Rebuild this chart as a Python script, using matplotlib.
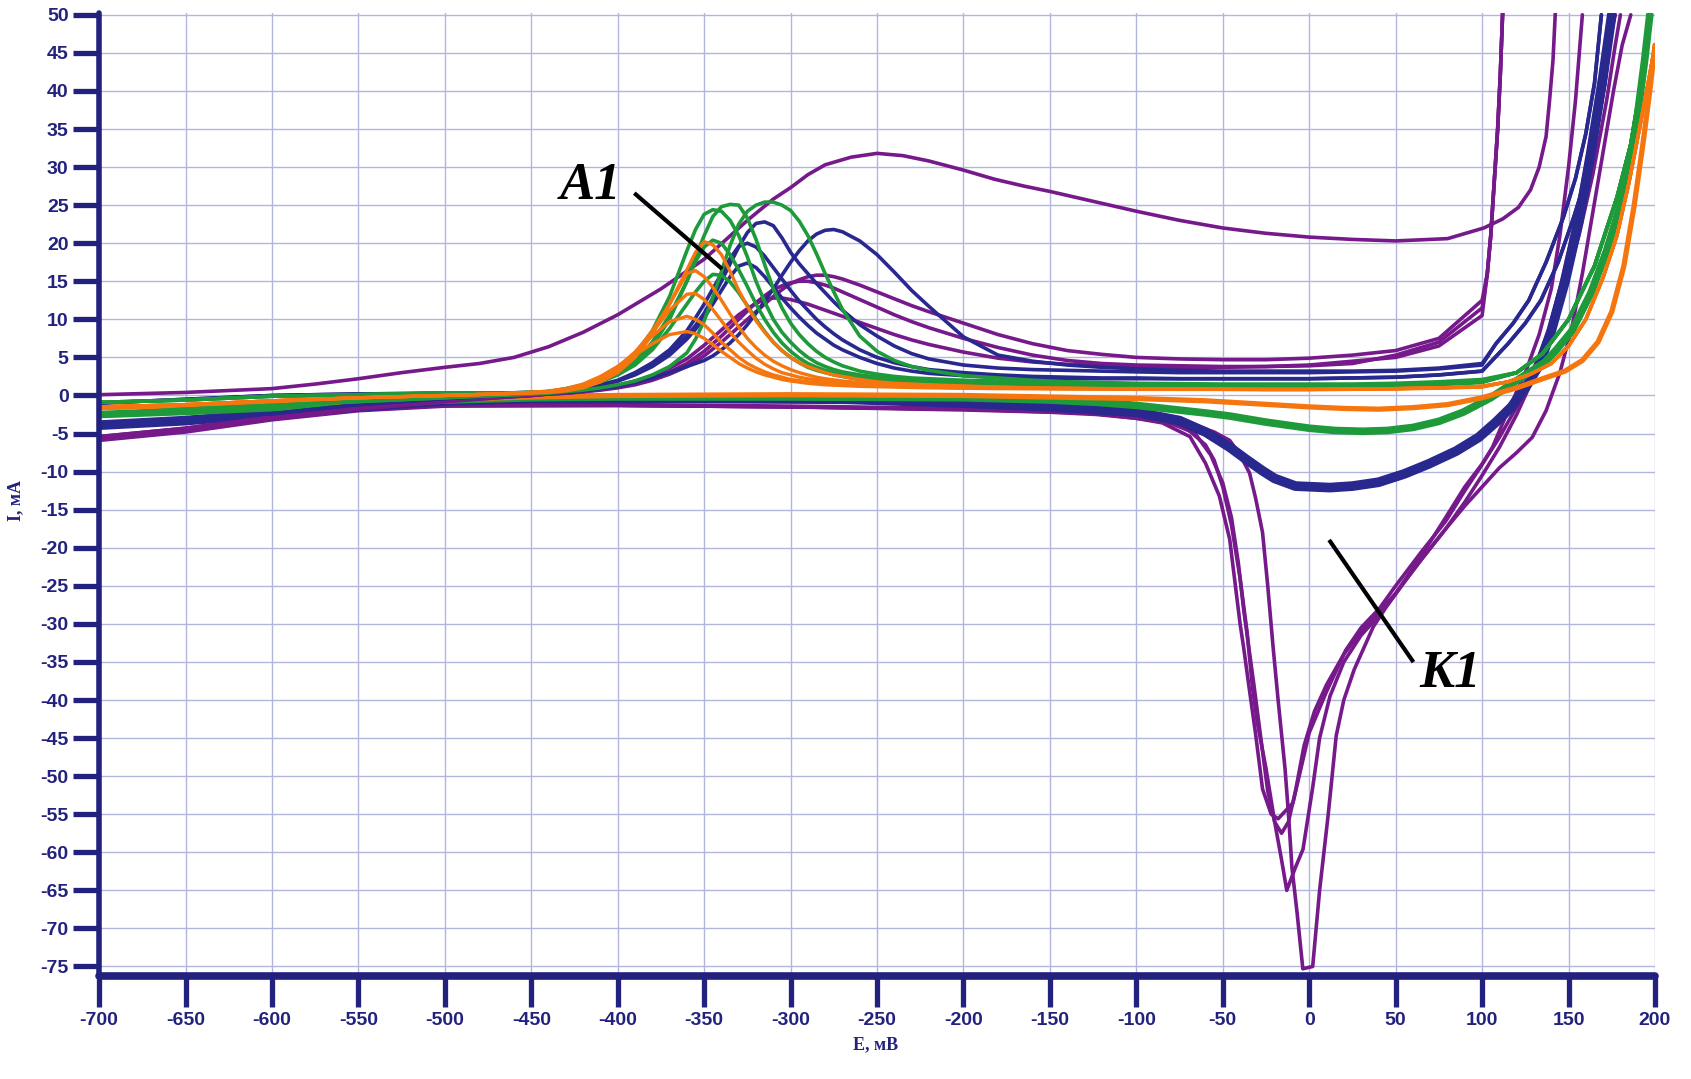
"""
Cyclic voltammograms: current I (mA) vs potential E (mV), A1 anodic and K1 cathodic peaks.
"""

import matplotlib

matplotlib.use("Agg")
import matplotlib.pyplot as plt

PURPLE = "#76198a"
BLUE = "#28288f"
GREEN = "#1f9a3a"
ORANGE = "#f5760f"
NAVY = "#22227e"
GRID = "#b3b6dc"

# ---- forward scans, sampled on a common potential grid (mV) ----
E_FWD = [-700, -650, -600, -550, -500, -470, -450, -440, -430, -420, -410, -400, -390, -380,
         -370, -360,
         -355, -350, -345, -340, -335, -330, -325, -320, -315, -310, -305, -300, -295, -290,
         -285, -280, -275, -270,
         -260, -250, -240, -230, -220, -200, -180, -160, -140, -120, -100, -75, -50, -25, 0,
         25, 50, 75, 100]

ORANGE_FWD = [
    [-1.5, -1.2, -0.7, -0.3, 0.0, 0.2, 0.4, 0.6, 0.9, 1.5, 2.5, 3.8, 5.3, 6.8, 8.0, 8.4,
     8.1, 7.5, 6.7, 5.8, 5.0, 4.2, 3.6, 3.1, 2.7, 2.4, 2.1, 1.9, 1.75, 1.6, 1.5, 1.4, 1.35, 1.3,
     1.2, 1.15, 1.1, 1.05, 1.0, 0.95, 0.9, 0.9, 0.85, 0.85, 0.8, 0.8, 0.8, 0.75, 0.75, 0.8, 0.85,
     0.95, 1.1],
    [-1.5, -1.2, -0.7, -0.3, 0.0, 0.2, 0.4, 0.5, 0.8, 1.4, 2.4, 3.8, 5.6, 7.8, 9.7, 10.4,
     10.0, 9.3, 8.2, 7.0, 6.0, 5.0, 4.2, 3.6, 3.1, 2.7, 2.4, 2.1, 1.95, 1.8, 1.7, 1.6, 1.5, 1.45,
     1.35, 1.25, 1.2, 1.15, 1.1, 1.0, 0.95, 0.9, 0.9, 0.85, 0.85, 0.8, 0.8, 0.8, 0.8, 0.85, 0.9,
     1.0, 1.15],
    [-1.5, -1.2, -0.7, -0.3, 0.0, 0.2, 0.4, 0.5, 0.8, 1.3, 2.3, 3.7, 5.7, 8.3, 11.2, 13.3,
     13.4, 12.6, 11.3, 9.8, 8.3, 7.0, 5.9, 4.9, 4.1, 3.5, 3.0, 2.7, 2.4, 2.2, 2.05, 1.9, 1.8, 1.7,
     1.55, 1.45, 1.35, 1.3, 1.25, 1.1, 1.0, 0.95, 0.9, 0.9, 0.85, 0.85, 0.8, 0.8, 0.8, 0.85, 0.9,
     1.0, 1.2],
    [-1.5, -1.2, -0.7, -0.3, 0.0, 0.2, 0.4, 0.5, 0.7, 1.2, 2.1, 3.4, 5.5, 8.5, 12.0, 16.0,
     16.4, 15.6, 14.2, 12.5, 10.7, 9.0, 7.5, 6.3, 5.3, 4.5, 3.9, 3.4, 3.0, 2.7, 2.4, 2.2, 2.05, 1.9,
     1.7, 1.55, 1.45, 1.4, 1.35, 1.2, 1.1, 1.0, 0.95, 0.9, 0.9, 0.85, 0.85, 0.8, 0.8, 0.85, 0.9,
     1.0, 1.2],
    [-1.5, -1.2, -0.7, -0.3, 0.0, 0.2, 0.3, 0.4, 0.6, 1.0, 1.8, 3.0, 5.0, 8.0, 12.0, 16.5,
     18.8, 20.2, 19.8, 18.5, 16.3, 13.8, 11.7, 9.8, 8.3, 7.0, 5.9, 5.0, 4.3, 3.8, 3.4, 3.0, 2.7, 2.5,
     2.1, 1.8, 1.6, 1.5, 1.4, 1.25, 1.1, 1.0, 0.95, 0.9, 0.9, 0.85, 0.85, 0.8, 0.8, 0.85, 0.9,
     1.0, 1.2],
]

GREEN_FWD = [
    [-0.9, -0.6, -0.1, 0.1, 0.3, 0.3, 0.4, 0.5, 0.8, 1.2, 1.8, 2.8, 4.2, 6.5, 10.0, 15.0,
     18.2, 21.0, 23.5, 24.8, 25.1, 25.0, 23.3, 20.5, 17.2, 14.0, 11.5, 9.5, 8.0, 6.8, 5.8, 5.0,
     4.4, 3.9,
     3.2, 2.8, 2.5, 2.3, 2.2, 2.0, 1.9, 1.8, 1.7, 1.6, 1.5, 1.5, 1.4, 1.4, 1.4, 1.4, 1.5, 1.7, 2.0],
    [-0.9, -0.6, -0.1, 0.1, 0.3, 0.3, 0.4, 0.5, 0.9, 1.4, 2.2, 3.4, 5.4, 8.5, 13.0, 19.0,
     21.8, 23.8, 24.4, 24.2, 23.0, 21.0, 18.2, 15.0, 12.3, 10.0, 8.3, 7.0, 5.9, 5.0, 4.3, 3.8,
     3.4, 3.1,
     2.7, 2.4, 2.2, 2.0, 1.9, 1.8, 1.7, 1.6, 1.5, 1.5, 1.4, 1.4, 1.3, 1.3, 1.3, 1.3, 1.4, 1.6, 1.9],
    [-2.4, -1.8, -1.3, -0.8, -0.3, 0.0, 0.2, 0.3, 0.5, 0.7, 1.0, 1.4, 1.9, 2.7, 3.8, 5.6,
     7.4, 9.8, 12.9, 16.3, 19.7, 22.5, 24.2, 25.0, 25.4, 25.4, 25.0, 24.3, 22.9, 21.0, 18.6, 16.0,
     13.6, 11.3,
     7.8, 5.8, 4.6, 3.8, 3.3, 2.6, 2.3, 2.0, 1.8, 1.7, 1.6, 1.55, 1.5, 1.5, 1.5, 1.5, 1.6, 1.8, 2.1],
    [-2.4, -1.8, -1.3, -0.8, -0.3, 0.0, 0.2, 0.5, 0.8, 1.3, 2.0, 3.0, 4.6, 7.0, 10.5, 15.0,
     17.6, 19.5, 20.4, 20.0, 18.5, 16.5, 14.3, 12.0, 10.0, 8.3, 6.9, 5.8, 4.9, 4.2, 3.7, 3.3,
     3.0, 2.7,
     2.3, 2.0, 1.85, 1.7, 1.6, 1.5, 1.4, 1.35, 1.3, 1.3, 1.25, 1.2, 1.2, 1.2, 1.2, 1.2, 1.3, 1.5,
     1.8],
    [-0.9, -0.6, -0.1, 0.1, 0.3, 0.3, 0.4, 0.5, 0.8, 1.2, 1.8, 2.7, 4.0, 6.0, 8.8, 12.0,
     13.6, 15.0, 15.9, 15.8, 14.9, 13.5, 11.8, 10.0, 8.4, 7.0, 5.9, 5.0, 4.3, 3.7, 3.3, 3.0,
     2.7, 2.5,
     2.1, 1.9, 1.75, 1.6, 1.5, 1.4, 1.35, 1.3, 1.25, 1.2, 1.2, 1.2, 1.15, 1.15, 1.15, 1.2, 1.25,
     1.4, 1.7],
]

BLUE_FWD = [
    [-3.9, -3.0, -2.4, -1.2, -0.4, 0.0, 0.3, 0.4, 0.6, 0.9, 1.3, 1.9, 2.8, 4.0, 5.6, 7.8,
     9.2, 10.8, 12.8, 15.0, 17.3, 19.5, 21.4, 22.6, 22.8, 22.3, 20.7, 18.8, 17.3, 16.0, 14.7,
     13.5, 12.3, 11.2,
     9.3, 7.8, 6.5, 5.5, 4.8, 4.0, 3.6, 3.4, 3.3, 3.2, 3.1, 3.0, 3.0, 3.0, 3.0, 3.1, 3.2, 3.5, 4.0],
    [-3.9, -3.0, -2.4, -1.2, -0.4, 0.0, 0.3, 0.4, 0.6, 0.9, 1.4, 2.0, 3.0, 4.3, 6.0, 8.5,
     10.2, 12.0, 14.0, 16.0, 18.0, 19.6, 20.0, 19.5, 18.3, 16.8, 15.3, 13.8, 12.4, 11.2, 10.0,
     9.0, 8.1, 7.3,
     6.0, 5.0, 4.3, 3.8, 3.4, 3.0, 2.7, 2.5, 2.4, 2.3, 2.3, 2.2, 2.2, 2.2, 2.2, 2.3, 2.4, 2.7, 3.2],
    [-1.0, -0.5, 0.0, 0.2, 0.3, 0.3, 0.3, 0.3, 0.4, 0.6, 0.9, 1.2, 1.7, 2.3, 3.0, 3.8,
     4.2, 4.6, 5.2, 6.0, 6.9, 8.0, 9.3, 10.8, 12.4, 14.0, 15.8, 17.5, 19.0, 20.3, 21.2, 21.7,
     21.8, 21.5,
     20.3, 18.5, 16.2, 13.8, 11.7, 7.7, 5.3, 4.5, 4.0, 3.7, 3.5, 3.3, 3.2, 3.2, 3.2, 3.2, 3.3,
     3.6, 4.2],
    [-1.0, -0.5, 0.0, 0.2, 0.3, 0.3, 0.4, 0.4, 0.6, 0.9, 1.3, 1.9, 2.7, 3.8, 5.3, 7.4,
     8.7, 10.2, 12.0, 13.8, 15.6, 17.0, 17.4, 16.8, 15.6, 14.2, 12.8, 11.5, 10.3, 9.2, 8.2, 7.4,
     6.6, 6.0,
     5.0, 4.2, 3.6, 3.2, 2.9, 2.6, 2.4, 2.3, 2.2, 2.2, 2.2, 2.2, 2.2, 2.2, 2.2, 2.3, 2.4, 2.7, 3.2],
]

PURPLE_FWD = [
    [-5.7, -4.6, -3.1, -1.8, -0.8, -0.3, 0.0, 0.2, 0.3, 0.5, 0.7, 1.0, 1.4, 2.0, 2.8, 3.8,
     4.5, 5.2, 6.1, 7.0, 8.0, 9.0, 10.0, 11.0, 12.0, 13.0, 13.9, 14.7, 15.2, 15.6, 15.8, 15.8,
     15.6, 15.3,
     14.5, 13.6, 12.7, 11.8, 11.0, 9.5, 8.0, 6.8, 5.9, 5.4, 5.0, 4.8, 4.7, 4.7, 4.9, 5.3, 5.9,
     7.5, 12.5],
    [-5.6, -4.5, -3.0, -1.7, -0.8, -0.3, 0.0, 0.2, 0.3, 0.5, 0.8, 1.1, 1.6, 2.3, 3.1, 4.2,
     5.0, 5.8, 6.8, 7.8, 8.9, 10.0, 11.1, 12.2, 13.1, 13.9, 14.4, 14.8, 15.0, 15.0, 14.8, 14.5,
     14.1, 13.6,
     12.6, 11.6, 10.6, 9.7, 8.9, 7.5, 6.3, 5.3, 4.6, 4.2, 4.0, 3.9, 3.8, 3.8, 3.9, 4.2, 5.3, 7.0,
     11.5],
    [-5.4, -4.3, -2.8, -1.6, -0.7, -0.2, 0.0, 0.2, 0.4, 0.6, 0.9, 1.3, 1.9, 2.6, 3.6, 4.8,
     5.7, 6.6, 7.6, 8.6, 9.6, 10.6, 11.4, 12.1, 12.6, 12.8, 12.8, 12.6, 12.3, 12.0, 11.6, 11.2,
     10.8, 10.4,
     9.6, 8.8, 8.0, 7.3, 6.7, 5.7, 4.9, 4.4, 4.1, 3.9, 3.8, 3.7, 3.7, 3.8, 4.0, 4.5, 5.0, 6.5, 10.5],
]

# steep current rise of the forward scans near the end of the sweep
ORANGE_RISE_E = [115, 128, 140, 150, 160, 170, 178, 185, 191, 196, 200]
ORANGE_RISE_I = [1.8, 2.8, 4.2, 6.5, 10.0, 15.5, 21.0, 28.0, 35.0, 41.0, 46.0]
GREEN_RISE_E = [120, 135, 150, 165, 178, 186, 192, 197]
GREEN_RISE_I = [3.0, 5.5, 10.0, 17.0, 26.0, 33.0, 41.0, 50.0]
BLUE_RISE_E = [108, 118, 127, 137, 147, 154, 160, 165, 169]
BLUE_RISE2_E = [115, 125, 134, 144, 153, 160, 166, 171, 176]
BLUE_RISE_I = [6.8, 9.5, 12.5, 17.5, 23.4, 28.5, 34.4, 41.0, 50.0]
PURPLE_RISE_E = [103, 105, 107, 109, 110.5, 112]
PURPLE_RISE_I = [16.0, 21.0, 28.0, 35.0, 42.0, 51.0]

# broad purple forward scan
PB_E = [-700, -650, -600, -575, -550, -525, -500, -480, -460, -440, -420, -400, -375, -350, -325,
        -310, -300, -290, -280, -265, -250, -235, -220, -200, -182, -165, -150, -125, -100, -75,
        -50, -25, 0, 25, 50, 80, 101, 112, 121, 128, 133, 137, 139, 141, 142.5]
PB_I = [0.1, 0.4, 0.9, 1.5, 2.2, 3.0, 3.7, 4.2, 5.0, 6.4, 8.3, 10.6, 14.0, 17.9, 23.0,
        25.8, 27.3, 29.0, 30.3, 31.3, 31.8, 31.5, 30.8, 29.6, 28.4, 27.5, 26.8, 25.5, 24.2, 23.0,
        22.0, 21.3, 20.8, 20.5, 20.3, 20.6, 22.0, 23.2, 24.7, 27.0, 30.0, 34.0, 38.7, 44.0, 51.0]

# ---- reverse scans ----
OR_E = [200, 197, 193, 188, 182, 175, 167, 158, 148, 135, 120, 100, 80, 60, 40, 20, 0, -30, -60,
        -100, -150, -200, -300, -400, -450, -500, -550, -600, -650, -700]
OR_I = [46, 40, 33, 25, 17, 11, 7, 4.6, 3.2, 2.2, 1.0, -0.3, -1.2, -1.6, -1.8, -1.7, -1.5, -1.1,
        -0.7, -0.4, -0.2, 0.0, 0.1, 0.0, -0.2, -0.5, -0.8, -1.1, -1.4, -1.6]

GR_E = [197, 194, 190, 185, 180, 172, 163, 152, 143, 136, 127, 117, 105, 89, 75, 60, 45, 31, 15, 0,
        -25, -46, -60, -80, -100, -123, -150, -200, -300, -400, -450, -500, -550, -600, -650, -700]
GR_I = [50, 44, 37, 30, 25, 19, 13.5, 8.5, 6.0, 4.3, 3.0, 1.5, -0.3, -2.2, -3.4, -4.2, -4.6, -4.7,
        -4.6, -4.3, -3.5, -2.7, -2.3, -1.8, -1.3, -0.9, -0.6, -0.3, -0.2, -0.2, -0.3, -0.6, -1.1,
        -1.6, -2.1, -2.5]

BR_E = [175, 170, 163, 156, 148, 140, 133, 125, 117, 108, 98, 85, 69, 55, 40, 25, 12, -8, -20,
        -27, -37, -46, -60, -75, -100, -150, -200, -268, -350, -450, -500, -550, -600, -650, -700]
BR_I = [50, 42, 32, 23, 15, 8.5, 4.0, 1.0, -1.5, -3.5, -5.5, -7.3, -9.0, -10.3, -11.4, -11.9,
        -12.1, -11.9, -10.9, -9.9, -8.3, -6.8, -4.8, -3.3, -2.2, -1.5, -1.0, -0.5, -0.4, -0.4, -0.7,
        -1.5, -2.4, -3.3, -3.9]

K1_E = [180, 177, 172, 164, 156, 147, 137, 128, 120, 110, 98.5, 90, 79, 65, 50, 40.5, 30, 21, 9.8,
        0, -9.4, -18, -22, -27, -31, -35, -38, -40, -42, -46, -52, -60, -69, -85, -100, -123, -150,
        -200, -250, -300, -400, -500, -550, -600, -650, -700]
K1_I = [50, 46, 38.7, 29, 21, 14, 7.5, 2.5, -1.5, -5.5, -9.6, -12.5, -16.5, -20.5, -25, -28, -30.5,
        -33.5, -39, -44.3, -53.5, -55.6, -55, -51.7, -44.5, -38, -33, -30, -26.3, -18.9, -13.2,
        -8.9, -5.4, -3.6, -3.0, -2.5, -2.2, -1.9, -1.7, -1.5, -1.3, -1.3, -1.9, -3.1, -4.6, -5.7]

K2_E = [177, 173, 167, 160, 153, 146, 138, 130, 120, 110, 100, 90, 79, 65, 50, 40, 30, 20, 10, 3,
        -3, -8, -12, -16, -20, -24, -28, -32, -35, -38, -41, -45, -50, -57, -66, -80, -100, -123,
        -150, -200, -300, -400, -500, -550, -600, -650, -700]
K2_I = [50, 46, 39, 30, 22, 15, 8, 2.5, -2.5, -6.8, -10.5, -14, -17.5, -21.5, -26, -28.5, -31, -34,
        -38, -41.5, -46, -52, -56, -57.5, -56, -52, -45, -38, -33, -28, -22, -16, -11.5, -7.8, -5.0,
        -3.6, -3.0, -2.4, -2.1, -1.8, -1.5, -1.3, -1.3, -1.9, -3.0, -4.5, -5.6]

K3_E = [158, 154, 150, 145, 140, 133, 125, 115, 106, 100, 90, 79, 65, 50, 40, 30, 20, 12, 6, 2,
        -3.6, -8, -13, -16, -20, -25, -30, -33, -36, -40, -45, -50, -55, -60, -70, -85, -100, -123,
        -150, -200, -300, -400, -500, -550, -600, -650, -700]
K3_I = [50, 38.7, 30, 21, 14, 8, 3, -2, -6.8, -9, -12, -16, -21, -26, -29, -31.5, -35, -39.5, -45,
        -51.5, -59.6, -62, -65, -61, -56, -49, -43, -38, -31, -24, -17, -12, -8.5, -6.5, -4.5, -3.3,
        -2.8, -2.2, -2.0, -1.7, -1.4, -1.2, -1.2, -1.7, -2.8, -4.3, -5.4]

K4_E = [186, 181, 176, 170, 164, 158, 152, 145, 137, 129, 120, 110, 100, 90, 79, 65, 55, 44.5, 37,
        26, 20, 15.6, 11, 6, 2, -3.7, -7, -10, -12, -14, -18, -21, -24, -27, -31, -34.5, -40, -46,
        -55, -65, -80, -100, -130, -200, -300, -400, -500, -550, -600, -650, -700]
K4_I = [50, 46, 40, 32, 24, 16, 9, 3, -2, -5.5, -7.5, -9.5, -12, -14.5, -17.5, -21.5, -24.5, -27.8,
        -30.4, -36, -40, -44.7, -55, -65, -75, -75.3, -68, -62, -55, -49, -40, -32.8, -25, -18,
        -13.5, -10.2, -7.8, -5.9, -4.8, -4.0, -3.3, -2.8, -2.3, -1.8, -1.5, -1.3, -1.4, -2.0, -3.2,
        -4.8, -5.9]

X_TICKS = list(range(-700, 201, 50))
Y_TICKS = list(range(-75, 51, 5))


def line(ax, e, i, color, lw=2.6, z=3):
    ax.plot(e, i, color=color, lw=lw, solid_capstyle="round", solid_joinstyle="round", zorder=z)


def main() -> None:
    plt.rcParams["axes.unicode_minus"] = False
    fig = plt.figure(figsize=(16.91, 10.79), dpi=100)
    ax = fig.add_axes([0.0586, 0.0958, 0.9201, 0.8926])

    # reverse scans (drawn first, the thick bundles)
    for e, i in [(K1_E, K1_I), (K2_E, K2_I), (K3_E, K3_I), (K4_E, K4_I)]:
        line(ax, e, i, PURPLE, 2.6, 3)
    line(ax, BR_E, BR_I, BLUE, 7.0, 3)
    line(ax, GR_E, GR_I, GREEN, 5.5, 3)
    line(ax, OR_E, OR_I, ORANGE, 3.8, 3)

    # forward scans
    line(ax, PB_E, PB_I, PURPLE, 2.6, 4)
    for cur in PURPLE_FWD:
        line(ax, E_FWD + PURPLE_RISE_E, cur + PURPLE_RISE_I, PURPLE, 2.6, 4)
    for k, cur in enumerate(BLUE_FWD):
        rise_e = BLUE_RISE_E if k % 2 == 0 else BLUE_RISE2_E
        line(ax, E_FWD + rise_e, cur + BLUE_RISE_I, BLUE, 2.6, 5)
    for cur in GREEN_FWD:
        line(ax, E_FWD + GREEN_RISE_E, cur + GREEN_RISE_I, GREEN, 2.6, 6)
    for cur in ORANGE_FWD:
        line(ax, E_FWD + ORANGE_RISE_E, cur + ORANGE_RISE_I, ORANGE, 2.4, 7)

    ax.set_xlim(-700, 200)
    ax.set_ylim(-76.2, 50.3)
    ax.set_xticks(X_TICKS)
    ax.set_yticks(Y_TICKS)
    ax.grid(True, color=GRID, lw=1.0, zorder=0)
    ax.set_axisbelow(True)

    for side in ("top", "right"):
        ax.spines[side].set_visible(False)
    ax.spines["left"].set_linewidth(4.0)
    ax.spines["bottom"].set_linewidth(5.5)
    for side in ("left", "bottom"):
        ax.spines[side].set_color(NAVY)
        ax.spines[side].set_capstyle("round")
        ax.spines[side].set_zorder(10)

    tick_font = {"family": "Liberation Sans", "weight": "bold", "size": 14}
    ax.tick_params(axis="x", direction="out", length=22, width=3.8, color=NAVY, pad=4)
    ax.tick_params(axis="y", direction="out", length=19, width=3.8, color=NAVY, pad=3)
    ax.set_xticklabels([str(v) for v in X_TICKS], fontdict=tick_font, color=NAVY)
    ax.set_yticklabels([str(v) for v in Y_TICKS], fontdict=tick_font, color=NAVY)

    # peak annotations
    note_font = {"family": "Liberation Serif", "weight": "bold", "style": "italic", "size": 38}
    ax.text(-416, 27.5, "A1", ha="center", va="center", fontdict=note_font, zorder=12)
    ax.plot([-389.5, -340.5], [26.4, 16.8], color="black", lw=3.0, zorder=12)
    ax.text(81.5, -36.6, "K1", ha="center", va="center", fontdict=note_font, zorder=12)
    ax.plot([12.2, 59.6], [-19.2, -34.8], color="black", lw=3.0, zorder=12)

    label_font = {"family": "Liberation Serif", "weight": "bold", "size": 13}
    fig.text(0.518, 0.032, "E, мВ", ha="center", va="center", color=NAVY, fontdict=label_font)
    fig.text(0.0095, 0.536, "I, мА", ha="center", va="center", rotation=90, color=NAVY,
             fontdict=label_font)

    fig.savefig("out.png", dpi=100)
    plt.close(fig)


if __name__ == "__main__":
    main()
